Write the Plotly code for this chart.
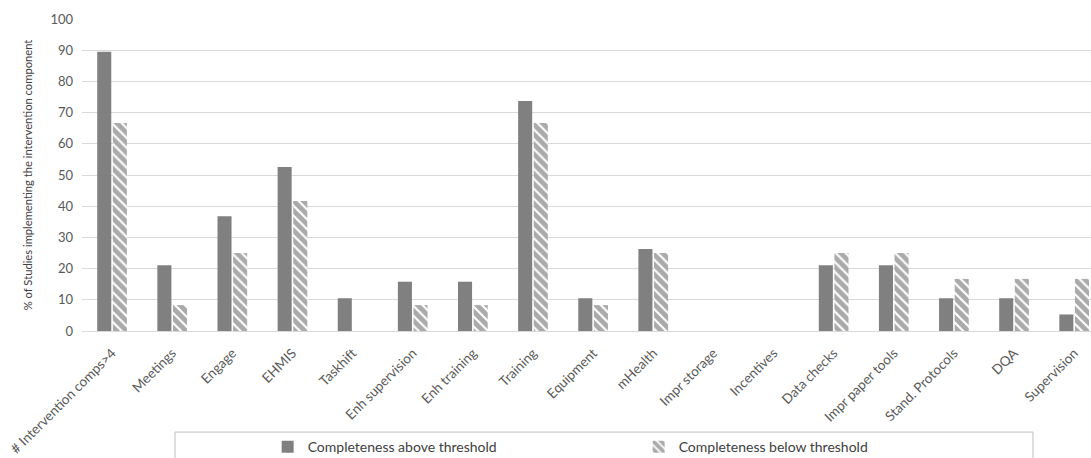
import plotly.graph_objects as go

categories = ["# Intervention comps>4", "Meetings", "Engage", "EHMIS", "Taskhift",
              "Enh supervision", "Enh training", "Training", "Equipment", "mHealth",
              "Impr storage", "Incentives", "Data checks", "Impr paper tools",
              "Stand. Protocols", "DQA", "Supervision"]
above = [89.5, 21.1, 36.8, 52.6, 10.5, 15.8, 15.8, 73.7, 10.5, 26.3,
         0, 0, 21.1, 21.1, 10.5, 10.5, 5.3]
below = [66.7, 8.3, 25.0, 41.7, 0, 8.3, 8.3, 66.7, 8.3, 25.0,
         0, 0, 25.0, 25.0, 16.7, 16.7, 16.7]
y_ticks = [0, 10, 20, 30, 40, 50, 60, 70, 80, 90, 100]

FONT = "Lato"
GREY_TXT = "#595959"

fig = go.Figure()
fig.add_trace(go.Bar(
    x=categories, y=above, name="Completeness above threshold",
    marker=dict(color="#808080", line=dict(width=0)),
))
fig.add_trace(go.Bar(
    x=categories, y=below, name="Completeness below threshold",
    marker=dict(color="#ffffff", line=dict(width=0),
                pattern=dict(shape="\\", fgcolor="#555555", bgcolor="#ffffff",
                             size=7, solidity=0.7, fillmode="overlay")),
))

fig.update_layout(
    width=1091, height=458,
    margin=dict(l=82, r=0, t=19, b=127, autoexpand=False),
    paper_bgcolor="white", plot_bgcolor="white",
    barmode="group", bargap=0.48, bargroupgap=0.1,
    font=dict(family=FONT, color=GREY_TXT),
    showlegend=True,
    legend=dict(orientation="h", x=0.184, xanchor="left", y=-0.372, yanchor="middle",
                font=dict(family=FONT, size=14, color="#404040"),
                entrywidth=326, entrywidthmode="pixels",
                bgcolor="rgba(0,0,0,0)", borderwidth=0),
    shapes=[dict(type="rect", xref="paper", yref="paper",
                 x0=0.0922, x1=0.9425, y0=-0.324, y1=-0.6,
                 line=dict(color="#bfbfbf", width=1), fillcolor="rgba(0,0,0,0)", layer="below")],
)
fig.update_yaxes(range=[0, 100], tickvals=y_ticks, showgrid=True, gridcolor="#d9d9d9", gridwidth=1,
                 zeroline=False, showline=False, ticks="", automargin=False,
                 ticklabelstandoff=8,
                 tickfont=dict(family=FONT, size=13, color=GREY_TXT),
                 title=dict(text="% of Studies implementing the intervention component",
                            font=dict(family=FONT, size=11.2, color="#404040")))
fig.update_xaxes(tickangle=-45, showline=True, linecolor="#d9d9d9", linewidth=1, ticks="",
                 range=[-0.5, 16.28], automargin=False, ticklabelstandoff=8,
                 tickfont=dict(family=FONT, size=13.5, color=GREY_TXT))

fig.write_html("out.html", config={"displayModeBar": False},
               post_script="document.body.style.margin='0';")
